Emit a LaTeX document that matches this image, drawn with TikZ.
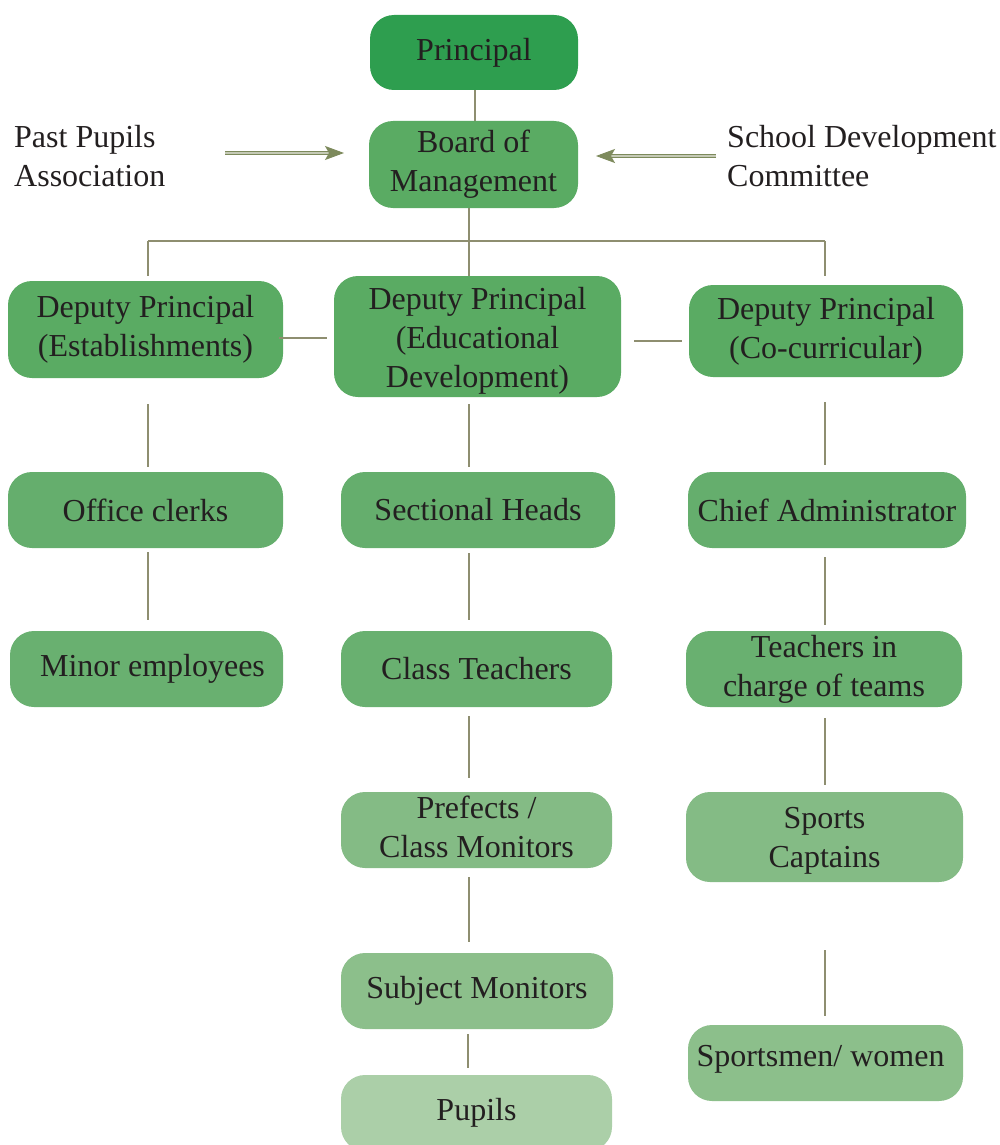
\documentclass[tikz,border=0pt]{standalone}
\usepackage{fontspec}
\setmainfont{Liberation Serif}
\usetikzlibrary{arrows.meta,calc}
\definecolor{txt}{HTML}{231F20}
\definecolor{lnc}{HTML}{8E8E70}
\definecolor{arc}{HTML}{7D8A5C}
\definecolor{cA}{HTML}{2E9E4F}
\definecolor{cB}{HTML}{5AAB63}
\definecolor{cC}{HTML}{65AE6D}
\definecolor{cD}{HTML}{69B070}
\definecolor{cE}{HTML}{84BB85}
\definecolor{cF}{HTML}{8CBF8B}
\definecolor{cG}{HTML}{ABCFA8}
\tikzset{
  box/.style={rounded corners=24pt, inner sep=0pt, align=center, text=txt,
    font=\fontsize{32}{39}\selectfont},
  lbl/.style={inner sep=0pt, align=left, text=txt, font=\fontsize{32}{39}\selectfont},
  conn/.style={draw=lnc, line width=1.3pt},
  dblarrow/.style={draw=arc, double=arc!45!white, double distance=1.3pt, line width=0.9pt,
    -{Stealth[length=19pt,width=14pt,inset=4pt]}},
}
\begin{document}
\begin{tikzpicture}[x=1pt,y=-1pt]
\useasboundingbox (0,0) rectangle (1000,1145);
% column coordinates
\coordinate (cL) at (148,0);
\coordinate (cM) at (469,0);
\coordinate (cR) at (825,0);
\coordinate (hbar) at (0,241);
% top
\node[box, fill=cA, minimum width=208pt, minimum height=75pt] (principal) at (474,52.5) {Principal};
\node[box, fill=cB, minimum width=209pt, minimum height=87pt] (board) at (473.5,164.5) {Board of\\Management};
% side labels
\node[lbl, anchor=west] (ppa) at (14,156) {Past Pupils\\Association};
\node[lbl, anchor=west] (sdc) at (727,156) {School Development\\Committee};
\coordinate (a1s) at (225,153);
\coordinate (a1e) at (344,153);
\coordinate (a2s) at (716,156);
\coordinate (a2e) at (596,156);
\draw[dblarrow] (a1s) -- (a1e);
\draw[dblarrow] (a2s) -- (a2e);
% deputy principals
\node[box, fill=cB, minimum width=275pt, minimum height=97pt] (dpest) at (145.5,329.5) {Deputy Principal\\(Establishments)};
\node[box, fill=cB, minimum width=287pt, minimum height=121pt] (dped) at (477.5,336.5) {\rule{0pt}{31pt}Deputy Principal\\(Educational\\Development)};
\node[box, fill=cB, minimum width=274pt, minimum height=92pt] (dpco) at (826,331) {Deputy Principal\\(Co-curricular)};
% left column
\node[box, fill=cC, minimum width=275pt, minimum height=76pt] (office) at (145.5,510) {Office clerks};
\node[box, fill=cD, minimum width=273pt, minimum height=76pt] (minor) at (146.5,669) {\hspace*{12pt}Minor employees};
% middle column
\node[box, fill=cC, minimum width=274pt, minimum height=76pt] (sect) at (478,510) {Sectional Heads};
\node[box, fill=cD, minimum width=271pt, minimum height=76pt] (classt) at (476.5,669) {Class Teachers};
\node[box, fill=cE, minimum width=271pt, minimum height=76pt] (pref) at (476.5,830) {Prefects /\\Class Monitors\rule[-6pt]{0pt}{6pt}};
\node[box, fill=cF, minimum width=272pt, minimum height=76pt] (subj) at (477,991) {Subject Monitors};
\node[box, fill=cG, minimum width=271pt, minimum height=76pt] (pupils) at (476.5,1113) {Pupils};
% right column
\node[box, fill=cC, minimum width=278pt, minimum height=76pt] (chief) at (827,510) {Chief Administrator};
\node[box, fill=cD, minimum width=276pt, minimum height=76pt] (tic) at (824,669) {Teachers in\\charge of teams};
\node[box, fill=cE, minimum width=277pt, minimum height=90pt] (scap) at (824.5,837) {\rule{0pt}{28pt}Sports\\Captains};
\node[box, fill=cF, minimum width=275pt, minimum height=76pt] (sports) at (825.5,1063) {Sportsmen/ women\hspace*{10pt}\rule[-14pt]{0pt}{14pt}};
% connectors top
\draw[conn] (principal.south -| 475,0) -- (board.north -| 475,0);
\draw[conn] (board.south -| cM) -- (dped.north -| cM);
\draw[conn] (hbar -| cL) -- (hbar -| cR);
\draw[conn, shorten >=5pt] (hbar -| cL) -- (dpest.north -| cL);
\draw[conn, shorten >=9pt] (hbar -| cR) -- (dpco.north -| cR);
\draw[conn, shorten <=-4pt, shorten >=7pt] (dpest.east |- 0,338) -- (dped.west |- 0,338);
\draw[conn, shorten <=13pt, shorten >=7pt] (dped.east |- 0,341) -- (dpco.west |- 0,341);
% left column connectors
\draw[conn, shorten <=26pt, shorten >=5pt] (dpest.south -| cL) -- (office.north -| cL);
\draw[conn, shorten <=4pt, shorten >=11pt] (office.south -| cL) -- (minor.north -| cL);
% middle column connectors
\draw[conn, shorten <=7pt, shorten >=5pt] (dped.south -| cM) -- (sect.north -| cM);
\draw[conn, shorten <=5pt, shorten >=11pt] (sect.south -| cM) -- (classt.north -| cM);
\draw[conn, shorten <=9pt, shorten >=14pt] (classt.south -| cM) -- (pref.north -| cM);
\draw[conn, shorten <=9pt, shorten >=11pt] (pref.south -| cM) -- (subj.north -| cM);
\draw[conn, shorten <=5pt, shorten >=7pt] (subj.south -| 468,0) -- (pupils.north -| 468,0);
% right column connectors
\draw[conn, shorten <=25pt, shorten >=7pt] (dpco.south -| cR) -- (chief.north -| cR);
\draw[conn, shorten <=9pt, shorten >=6pt] (chief.south -| cR) -- (tic.north -| cR);
\draw[conn, shorten <=11pt, shorten >=7pt] (tic.south -| cR) -- (scap.north -| cR);
\draw[conn, shorten <=68pt, shorten >=9pt] (scap.south -| cR) -- (sports.north -| cR);
\end{tikzpicture}
\end{document}
